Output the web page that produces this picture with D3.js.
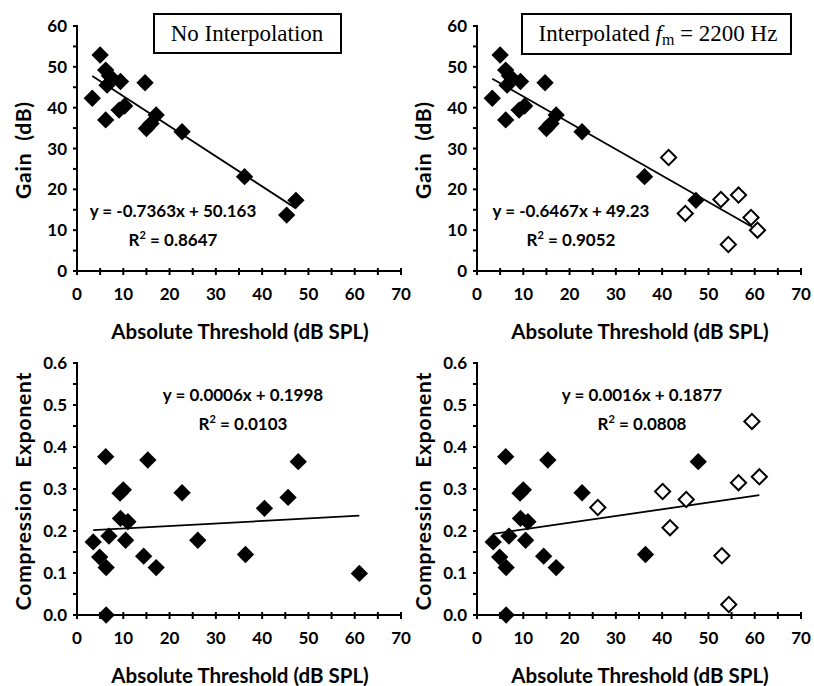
<!DOCTYPE html>
<html lang="en">
<head>
<meta charset="utf-8">
<title>Gain and compression vs threshold</title>
<script src="https://d3js.org/d3.v7.min.js"></script>
<style>
  body { margin: 0; background: white; }
  svg text { font-family: Lato, "Open Sans", sans-serif; font-weight: 700; fill: black; }
  .legend text { font-family: "Liberation Serif", "DejaVu Serif", serif; font-weight: 400; }
</style>
</head>
<body>
<div id="chart"></div>
<script>

// data
var gainFilledX = [3.3, 5.0, 6.2, 6.5, 6.2, 7.0, 9.4, 9.1, 10.3, 14.7, 15.0, 16.0, 17.1, 22.7, 36.2, 45.3, 47.3]
var gainFilledY = [42.3, 52.9, 49.2, 45.5, 37.0, 47.8, 46.4, 39.4, 40.4, 46.1, 34.9, 36.1, 38.2, 34.1, 23.1, 13.7, 17.3]
// right panel: same measured points, but the one at 45.3 dB is replaced by interpolated ones
var gainOpenX = [41.4, 45.0, 52.7, 56.5, 54.3, 59.2, 60.6]
var gainOpenY = [27.8, 14.1, 17.5, 18.6, 6.5, 13.1, 10.0]

var compLeftX = [3.5, 4.9, 6.2, 6.3, 6.3, 6.9, 9.3, 10.0, 9.4, 11.0, 10.5, 14.4, 15.3, 17.1, 22.7, 26.1, 36.4, 40.5, 45.6, 47.8, 61.0]
var compLeftY = [0.174, 0.138, 0.377, 0.113, 0.0, 0.188, 0.29, 0.298, 0.23, 0.222, 0.178, 0.14, 0.369, 0.113, 0.291, 0.178, 0.144, 0.254, 0.28, 0.365, 0.099]
var compRightX = [3.5, 4.9, 6.2, 6.3, 6.3, 6.9, 9.3, 10.0, 9.4, 11.0, 10.5, 14.4, 15.3, 17.1, 22.7, 36.4, 47.8]
var compRightY = [0.174, 0.138, 0.377, 0.113, 0.0, 0.188, 0.29, 0.298, 0.23, 0.222, 0.178, 0.14, 0.369, 0.113, 0.291, 0.144, 0.365]
var compOpenX = [26.1, 40.1, 41.7, 45.2, 52.9, 54.4, 56.5, 59.4, 61.0]
var compOpenY = [0.256, 0.294, 0.208, 0.275, 0.141, 0.025, 0.315, 0.461, 0.329]

// regression fits as printed
var fitSlopes = [-0.7363, -0.6467, 0.0006, 0.0016]
var fitIntercepts = [50.163, 49.23, 0.1998, 0.1877]
var fitLabels = [["y = -0.7363x + 50.163", "0.8647"], ["y = -0.6467x + 49.23", "0.9052"],
                 ["y = 0.0006x + 0.1998", "0.0103"], ["y = 0.0016x + 0.1877", "0.0808"]]

var xTicks = [0, 10, 20, 30, 40, 50, 60, 70]
var gainTicks = [0, 10, 20, 30, 40, 50, 60]
var compTicks = [0, 0.1, 0.2, 0.3, 0.4, 0.5, 0.6]

var width = 814, height = 686

var svg = d3.select("#chart")
  .append("svg")
    .attr("width", width)
    .attr("height", height)

function zip(xs, ys) { return xs.map(function(x, i){ return [x, ys[i]] }) }

var diamond = d3.symbol().type(d3.symbolSquare).size(150)

function drawPanel(p) {
  var x = d3.scaleLinear().domain([0, 70]).range([p.left, p.left + 324])
  var y = d3.scaleLinear().domain([0, p.ymax]).range([p.bottom, p.top])
  var g = svg.append("g")

  // y axis: ticks every half step, pointing left
  var yMinor = d3.range(0, p.ymax + p.ymax / 24, p.ymax / 12)
  g.append("g").selectAll("line").data(yMinor).enter().append("line")
    .attr("x1", p.left - 4).attr("x2", p.left)
    .attr("y1", function(d){ return y(d) }).attr("y2", function(d){ return y(d) })
    .attr("stroke", "black").attr("stroke-width", 2)
  g.append("line")
    .attr("x1", p.left).attr("x2", p.left)
    .attr("y1", y(0) + 1).attr("y2", y(p.ymax) - 1)
    .attr("stroke", "black").attr("stroke-width", 2)
  g.append("g").selectAll("text").data(p.yTicks).enter().append("text")
    .attr("x", p.left - 10)
    .attr("y", function(d){ return y(d) + 6 })
    .attr("text-anchor", "end")
    .style("font-size", "17px")
    .text(function(d){ return p.ymax < 1 ? d3.format(".1f")(d) : d })

  // x axis: crossing ticks every 5
  var xMinor = d3.range(0, 71, 5)
  g.append("g").selectAll("line").data(xMinor).enter().append("line")
    .attr("x1", function(d){ return x(d) }).attr("x2", function(d){ return x(d) })
    .attr("y1", y(0) - 3).attr("y2", y(0) + 4)
    .attr("stroke", "black").attr("stroke-width", 2)
  g.append("line")
    .attr("x1", p.left - 4).attr("x2", x(70))
    .attr("y1", y(0)).attr("y2", y(0))
    .attr("stroke", "black").attr("stroke-width", 2)
  g.append("g").selectAll("text").data(xTicks).enter().append("text")
    .attr("x", function(d){ return x(d) })
    .attr("y", y(0) + 29)
    .attr("text-anchor", "middle")
    .style("font-size", "17px")
    .text(function(d){ return d })

  // axis titles
  g.append("text")
    .attr("x", p.left + 163).attr("y", p.xTitleY)
    .attr("text-anchor", "middle")
    .style("font-size", "20.5px")
    .text("Absolute Threshold (dB SPL)")
  g.append("text")
    .attr("transform", "translate(" + (p.left - 46) + "," + p.yTitleY + ") rotate(-90)")
    .attr("text-anchor", "middle")
    .style("font-size", "21px")
    .style("letter-spacing", "0.8px")
    .style("white-space", "pre")
    .text(p.yTitle)

  // regression line over the range of the data
  var allX = p.filled.map(function(d){ return d[0] }).concat(p.open.map(function(d){ return d[0] }))
  var ext = d3.extent(allX)
  g.append("line")
    .attr("x1", x(ext[0])).attr("y1", y(p.slope * ext[0] + p.intercept))
    .attr("x2", x(ext[1])).attr("y2", y(p.slope * ext[1] + p.intercept))
    .attr("stroke", "black").attr("stroke-width", 1.8)

  // points
  g.append("g").selectAll("path").data(p.filled).enter().append("path")
    .attr("d", diamond)
    .attr("transform", function(d){ return "translate(" + x(d[0]) + "," + y(d[1]) + ") rotate(45)" })
    .attr("fill", "black")
  g.append("g").selectAll("path").data(p.open).enter().append("path")
    .attr("d", d3.symbol().type(d3.symbolSquare).size(115))
    .attr("transform", function(d){ return "translate(" + x(d[0]) + "," + y(d[1]) + ") rotate(45)" })
    .attr("fill", "white").attr("stroke", "black").attr("stroke-width", 2)

  // equation text
  g.append("text")
    .attr("x", p.eqX).attr("y", p.eqY)
    .attr("text-anchor", "middle")
    .style("font-size", "17px")
    .text(p.label[0])
  var r2 = g.append("text")
    .attr("x", p.eqX).attr("y", p.eqY + 29)
    .attr("text-anchor", "middle")
    .style("font-size", "17px")
  r2.append("tspan").text("R")
  r2.append("tspan").attr("dy", -7).style("font-size", "11px").text("2")
  r2.append("tspan").attr("dy", 7).text(" = " + p.label[1])
}

drawPanel({left: 77, top: 26, bottom: 271, ymax: 60, yTicks: gainTicks, yTitle: "Gain  (dB)",
  yTitleY: 150, xTitleY: 339, filled: zip(gainFilledX, gainFilledY), open: [],
  slope: fitSlopes[0], intercept: fitIntercepts[0], label: fitLabels[0], eqX: 173, eqY: 217})
drawPanel({left: 477, top: 26, bottom: 271, ymax: 60, yTicks: gainTicks, yTitle: "Gain  (dB)",
  yTitleY: 150, xTitleY: 339,
  filled: zip(gainFilledX, gainFilledY).filter(function(d){ return d[0] != 45.3 }),
  open: zip(gainOpenX, gainOpenY),
  slope: fitSlopes[1], intercept: fitIntercepts[1], label: fitLabels[1], eqX: 571, eqY: 217})
drawPanel({left: 77, top: 363, bottom: 615, ymax: 0.6, yTicks: compTicks, yTitle: "Compression  Exponent",
  yTitleY: 491, xTitleY: 683, filled: zip(compLeftX, compLeftY), open: [],
  slope: fitSlopes[2], intercept: fitIntercepts[2], label: fitLabels[2], eqX: 243, eqY: 401})
drawPanel({left: 477, top: 363, bottom: 615, ymax: 0.6, yTicks: compTicks, yTitle: "Compression  Exponent",
  yTitleY: 491, xTitleY: 683, filled: zip(compRightX, compRightY), open: zip(compOpenX, compOpenY),
  slope: fitSlopes[3], intercept: fitIntercepts[3], label: fitLabels[3], eqX: 642, eqY: 401})

// boxed panel captions
var leg = svg.append("g").attr("class", "legend")
leg.append("rect").attr("x", 154).attr("y", 14).attr("width", 187).attr("height", 39)
  .attr("fill", "white").attr("stroke", "black").attr("stroke-width", 2)
leg.append("text").attr("x", 247).attr("y", 41).attr("text-anchor", "middle")
  .style("font-size", "23px").text("No Interpolation")
leg.append("rect").attr("x", 522).attr("y", 14).attr("width", 269).attr("height", 40)
  .attr("fill", "white").attr("stroke", "black").attr("stroke-width", 2)
var cap = leg.append("text").attr("x", 658).attr("y", 41).attr("text-anchor", "middle")
  .style("font-size", "23px")
cap.append("tspan").text("Interpolated ")
cap.append("tspan").style("font-style", "italic").text("f")
cap.append("tspan").attr("dy", 4).style("font-size", "16px").text("m")
cap.append("tspan").attr("dy", -4).text(" = 2200 Hz")

</script>
</body>
</html>
